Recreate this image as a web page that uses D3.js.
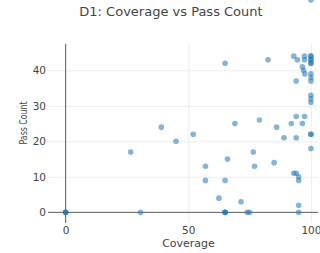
<!DOCTYPE html>
<html>
<head>
<meta charset="utf-8">
<script src="https://cdn.jsdelivr.net/npm/d3@7"></script>
<style>
  body { margin: 0; background: #fff; }
  svg text { font-family: "DejaVu Sans", Verdana, sans-serif; fill: #444; }
</style>
</head>
<body>
<svg id="chart" width="320" height="253"></svg>
<script>
'use strict'

// values
let coverage = [0, 0, 0, 26.5, 30.5, 39, 45, 52, 57, 57, 62.5, 65, 65, 65, 65, 65, 66, 69, 71.5, 74, 75,
  76.5, 77, 79, 82.5, 85, 86, 89, 92, 93, 93, 94, 94.5, 94, 94, 94, 95, 95, 95, 95,
  96.5, 96.5, 97, 97.5, 97.4, 97.4, 97.4,
  100, 100, 100, 100, 100, 100, 100, 100, 100, 100, 100, 100, 100, 100, 100, 100]
let passCount = [0, 0, 0, 17, 0, 24, 20, 22, 13, 9, 4, 42, 9, 0, 0, 0, 15, 25, 3, 0, 0,
  17, 13, 26, 43, 14, 24, 21, 25, 44, 11, 11, 43, 37, 27, 21, 10, 9, 2, 0,
  25, 41, 40, 39, 44, 43, 27,
  44, 44, 43, 43, 42, 42, 39, 38, 37, 33, 32, 31, 22, 22, 18]
let xTicks = [0, 50, 100]
let yTicks = [0, 10, 20, 30, 40]
let chartTitle = 'D1: Coverage vs Pass Count'
let xTitle = 'Coverage'
let yTitle = 'Pass Count'

let points = coverage.map(function(c, i){ return [c, passCount[i]] })

let svg = d3.select('#chart')
let plot = {left: 48, right: 318.3, top: 43.7, bottom: 223}

let xScale = d3.scaleLinear().domain([-7.2, 103]).range([plot.left, plot.right])
let yScale = d3.scaleLinear().domain([-3, 47.5]).range([plot.bottom, plot.top])

// grid + tick labels
let yAxis = svg.append('g')
  .attr('transform', 'translate(' + plot.left + ',0)')
  .call(d3.axisLeft(yScale).tickValues(yTicks).tickSize(-(plot.right - plot.left)).tickPadding(2))
let xAxis = svg.append('g')
  .attr('transform', 'translate(0,' + plot.bottom + ')')
  .call(d3.axisBottom(xScale).tickValues(xTicks).tickSize(-(plot.bottom - plot.top)).tickPadding(4))

;[xAxis, yAxis].forEach(function(a){
  a.select('.domain').remove()
  a.selectAll('line').attr('stroke', '#eee')
  a.selectAll('text').style('font-size', '10.5px').attr('fill', '#444')
})
yAxis.selectAll('.tick').filter(function(d){ return d == 0 }).select('line').remove()
xAxis.selectAll('.tick').filter(function(d){ return d == 0 }).select('line').remove()

// zero lines
svg.append('line')
  .attr('x1', plot.left).attr('x2', plot.right)
  .attr('y1', yScale(0)).attr('y2', yScale(0))
  .attr('stroke', '#5a5a5a').attr('stroke-width', 1)
svg.append('line')
  .attr('x1', xScale(0)).attr('x2', xScale(0))
  .attr('y1', plot.top).attr('y2', plot.bottom)
  .attr('stroke', '#5a5a5a').attr('stroke-width', 1)

// markers
svg.append('g').selectAll('circle')
  .data(points)
  .enter()
  .append('circle')
  .attr('cx', function(d){ return xScale(d[0]) })
  .attr('cy', function(d){ return yScale(d[1]) })
  .attr('r', 2.8)
  .attr('fill', '#1f77b4')
  .attr('fill-opacity', 0.55)

// titles
svg.append('text').text(chartTitle)
  .attr('x', 171).attr('y', 16)
  .attr('text-anchor', 'middle')
  .style('font-size', '13px')
svg.append('text').text(xTitle)
  .attr('x', 188.5).attr('y', 247)
  .attr('text-anchor', 'middle')
  .style('font-size', '11px')
svg.append('text').text(yTitle)
  .attr('transform', 'translate(27,123) rotate(-90)')
  .attr('text-anchor', 'middle')
  .attr('textLength', 43)
  .attr('lengthAdjust', 'spacingAndGlyphs')
  .style('font-size', '11px')
</script>
</body>
</html>
